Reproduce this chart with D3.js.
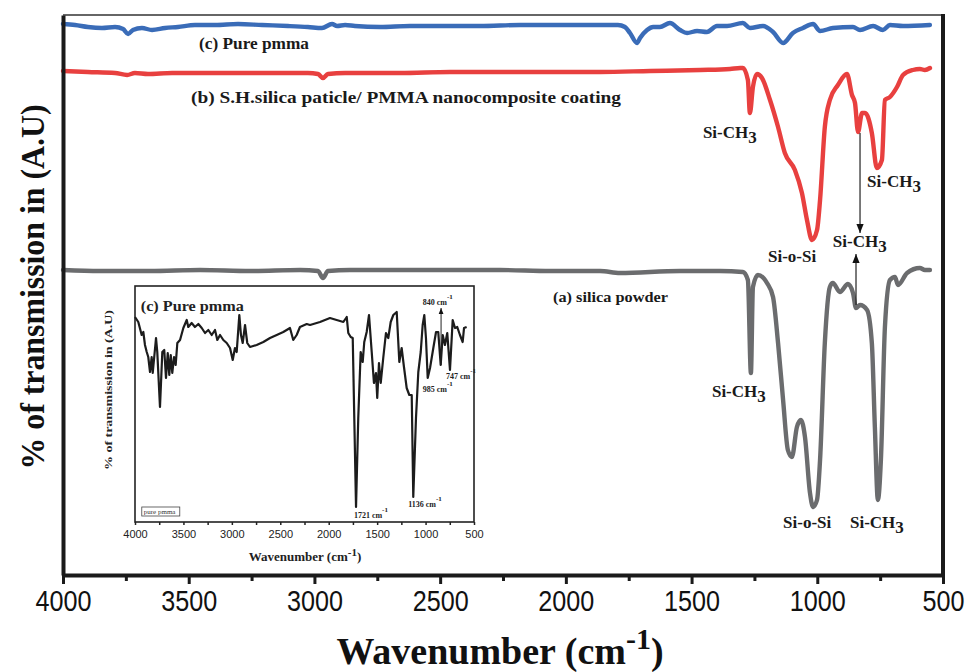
<!DOCTYPE html>
<html><head><meta charset="utf-8">
<script src="https://cdn.jsdelivr.net/npm/d3@7"></script>
<style>body{margin:0;background:#fff}</style>
</head><body><svg id="c" width="968" height="672"></svg>
<script>
// ---------------- data ----------------
const xTicks = [4000,3500,3000,2500,2000,1500,1000,500];
const xMinorTicks = [3750,3250,2750,2250,1750,1250,750];

// (c) Pure pmma (main plot, blue)
const pmmaWn = [4000,3952,3901,3845,3793,3761,3741,3722,3686,3646,3594,3543,3475,3395,3304,3208,3105,3026,2970,2930,2910,2878,2839,2739,2620,2501,2342,2182,2023,1864,1793,1765,1745,1717,1705,1677,1653,1626,1586,1546,1518,1478,1439,1399,1359,1296,1268,1216,1176,1136,1097,1057,1017,989,938,858,830,778,739,711,659,552];
const pmmaT  = [551,550,548,547,548,546,541,545,547,545,547,548,550,550,551,550,549,548,547,551,549,550,549,548,549,549,549,550,550,550,550,548,542,532,537,545,548,548,552,545,542,544,543,549,549,552,547,549,543,532,542,547,551,544,547,548,545,549,545,550,549,550];

// (b) S.H. silica particle / PMMA nanocomposite coating (red)
const compWn = [4000,3901,3793,3745,3714,3662,3566,3435,3304,3169,3026,2986,2966,2946,2878,2839,2660,2461,2262,2063,1864,1665,1466,1347,1307,1296,1276,1268,1256,1240,1220,1188,1156,1129,1089,1061,1041,1021,1001,989,970,950,918,882,862,850,838,822,810,783,763,743,731,711,683,659,620,592,572,552];
const compT  = [504,503,502,500,502,501,502,502,502,502,502,501,497,501,502,502,502,503,503,503,503,504,505,506,507,507,495,462,488,501,497,475,448,422,405,382,355,335,345,375,448,475,490,501,480,472,443,462,462,442,407,415,475,478,488,500,505,506,505,507];

// (a) silica powder (grey)
const silicaWn = [4000,3853,3654,3455,3256,3057,2986,2966,2946,2859,2660,2461,2262,2063,1864,1785,1546,1387,1296,1276,1264,1256,1236,1200,1176,1156,1136,1117,1101,1081,1065,1049,1029,1017,1001,989,970,950,938,910,878,858,846,830,802,783,771,759,747,731,711,691,679,643,592,572,552];
const silicaT  = [305,304,304,305,304,305,304,297,304,305,305,305,305,304,304,302,304,304,303,295,202,288,300,292,278,232,175,125,118,148,155,138,82,68,75,115,232,288,292,283,291,282,267,270,265,232,148,75,115,248,295,298,290,302,307,305,305];

// inset: pure pmma
const insetWn = [4000,3966,3931,3914,3897,3879,3863,3845,3828,3817,3783,3770,3742,3718,3698,3680,3662,3646,3631,3615,3597,3580,3563,3535,3501,3466,3450,3415,3381,3346,3311,3277,3243,3208,3174,3150,3122,3088,3053,3019,2991,2968,2950,2923,2906,2888,2864,2841,2813,2744,2675,2606,2537,2469,2400,2366,2331,2297,2227,2193,2090,1987,1918,1849,1814,1798,1773,1752,1736,1718,1695,1670,1649,1633,1608,1584,1556,1533,1512,1499,1481,1463,1437,1409,1385,1360,1333,1298,1271,1247,1223,1195,1168,1143,1127,1099,1075,1050,1030,1013,996,978,954,920,892,869,844,823,800,776,748,720,696,673,645,617,603,576];
const insetT  = [205,200,187,190,177,170,165,150,165,149,184,170,115,170,172,144,169,147,167,149,165,157,179,182,194,202,195,199,195,198,194,189,192,187,192,182,187,182,179,174,162,174,170,207,187,179,197,179,175,177,180,184,187,190,194,182,187,195,198,197,200,204,202,200,205,189,185,184,104,15,104,170,160,180,190,207,170,139,149,124,159,139,164,189,184,200,207,210,160,174,155,134,127,127,25,104,150,170,197,207,184,144,154,174,190,190,157,187,177,189,152,202,194,195,187,180,194,195];
const insetPeaks = [
  {label:"1721 cm", wn:1740, v:4},
  {label:"1136 cm", wn:1180, v:15},
  {label:"985 cm",  wn:1030, v:130},
  {label:"747 cm",  wn:790,  v:143},
  {label:"840 cm",  wn:1030, v:217}
];

// ---------------- drawing ----------------
const svg = d3.select("#c");
const serif = "'Liberation Serif','Times New Roman',serif";
const sans  = "'Liberation Sans',Arial,sans-serif";
const fmt = d3.format("d");

const L=63, R=943, T=15, B=575;
const x = d3.scaleLinear().domain([4000,500]).range([L,R]);
const y = d3.scaleLinear().domain([0,560]).range([B,T]);

const defs = svg.append("defs");
defs.append("marker").attr("id","ah").attr("viewBox","0 0 10 10").attr("refX",10).attr("refY",5)
  .attr("markerWidth",9).attr("markerHeight",9).attr("orient","auto-start-reverse").attr("markerUnits","userSpaceOnUse")
  .append("path").attr("d","M0,1 L10,5 L0,9 Z").attr("fill","#111");
defs.append("marker").attr("id","ahs").attr("viewBox","0 0 10 10").attr("refX",10).attr("refY",5)
  .attr("markerWidth",6).attr("markerHeight",6).attr("orient","auto-start-reverse").attr("markerUnits","userSpaceOnUse")
  .append("path").attr("d","M0,1 L10,5 L0,9 Z").attr("fill","#111");

// frame top/right
svg.append("line").attr("x1",L).attr("x2",R).attr("y1",T).attr("y2",T).attr("stroke","#666").attr("stroke-width",2);
svg.append("line").attr("x1",R).attr("x2",R).attr("y1",T-1).attr("y2",B).attr("stroke","#1a1a1a").attr("stroke-width",4);

const line = d3.line().x(d=>x(d[0])).y(d=>y(d[1])).curve(d3.curveMonotoneX);
function trace(wn,t,color){
  svg.append("path").datum(wn.map((w,i)=>[w,t[i]])).attr("d",line)
    .attr("fill","none").attr("stroke",color).attr("stroke-width",4.4)
    .attr("stroke-linejoin","round").attr("stroke-linecap","round");
}
trace(pmmaWn,pmmaT,"#3a6cb8");
trace(compWn,compT,"#e8403f");
trace(silicaWn,silicaT,"#6b6c6e");

// axes
const gx = svg.append("g").attr("transform",`translate(0,${B})`)
  .call(d3.axisBottom(x).tickValues(xTicks).tickFormat(fmt).tickSize(9).tickSizeOuter(0).tickPadding(6));
gx.select(".domain").attr("stroke","#1a1a1a").attr("stroke-width",4);
gx.selectAll(".tick line").attr("stroke","#1a1a1a").attr("stroke-width",3);
gx.selectAll(".tick text").attr("font-family",sans).attr("font-size",30).attr("fill","#111")
  .attr("transform","scale(0.84,1)");
const gxm = svg.append("g").attr("transform",`translate(0,${B})`)
  .call(d3.axisBottom(x).tickValues(xMinorTicks).tickSize(6).tickSizeOuter(0).tickFormat(""));
gxm.select(".domain").remove();
gxm.selectAll(".tick line").attr("stroke","#1a1a1a").attr("stroke-width",3);

const gy = svg.append("g").attr("transform",`translate(${L},0)`)
  .call(d3.axisLeft(y).tickValues([]).tickSizeOuter(0));
gy.select(".domain").attr("stroke","#1a1a1a").attr("stroke-width",4);

// axis titles
const xt = svg.append("text").attr("x",500).attr("y",664).attr("text-anchor","middle")
  .attr("font-family",serif).attr("font-weight","bold").attr("font-size",38).attr("fill","#111");
xt.append("tspan").text("Wavenumber (cm");
xt.append("tspan").attr("dy",-15).attr("font-size",30).text("-1");
xt.append("tspan").attr("dy",15).text(")");

svg.append("text").attr("transform","translate(44,287) rotate(-90)").attr("text-anchor","middle")
  .attr("font-family",serif).attr("font-weight","bold").attr("font-size",33).attr("fill","#111")
  .attr("textLength",365).attr("lengthAdjust","spacingAndGlyphs")
  .text("% of transmission in (A.U)");

// series labels
function label(txt,wn,v,len,size){
  svg.append("text").attr("x",x(wn)).attr("y",y(v)).attr("font-family",serif).attr("font-weight","bold")
    .attr("font-size",size).attr("fill","#1a1a1a").attr("textLength",len).attr("lengthAdjust","spacingAndGlyphs").text(txt);
}
label("(c) Pure pmma",3459,526,110,16);
label("(b) S.H.silica paticle/ PMMA nanocomposite coating",3491,472,430,16);
label("(a) silica powder",2051,273,115,14);

// peak labels
const peakLabels = [
  {t:"Si-CH",s:"3",wn:1455,v:437},
  {t:"Si-CH",s:"3",wn:802,v:388},
  {t:"Si-o-Si",s:"",wn:1196,v:313},
  {t:"Si-CH",s:"3",wn:938,v:328},
  {t:"Si-CH",s:"3",wn:1419,v:178},
  {t:"Si-o-Si",s:"",wn:1136,v:47},
  {t:"Si-CH",s:"3",wn:870,v:47}
];
peakLabels.forEach(p=>{
  const tx = svg.append("text").attr("x",x(p.wn)).attr("y",y(p.v)).attr("font-family",serif)
    .attr("font-weight","bold").attr("font-size",17).attr("fill","#1a1a1a");
  tx.append("tspan").text(p.t);
  if(p.s) tx.append("tspan").attr("dy",5).text(p.s);
});

// arrows
svg.append("line").attr("x1",x(830)).attr("x2",x(830)).attr("y1",y(442)).attr("y2",y(342))
  .attr("stroke","#222").attr("stroke-width",1.2).attr("marker-end","url(#ah)");
svg.append("line").attr("x1",x(846)).attr("x2",x(846)).attr("y1",y(270)).attr("y2",y(321))
  .attr("stroke","#222").attr("stroke-width",1.2).attr("marker-end","url(#ah)");

// ---------------- inset ----------------
const iL=135, iR=474, iT=286, iB=522;
const ix = d3.scaleLinear().domain([4000,500]).range([iL,iR]);
const iy = d3.scaleLinear().domain([0,236]).range([iB,iT]);
svg.append("rect").attr("x",iL).attr("y",iT).attr("width",iR-iL).attr("height",iB-iT)
  .attr("fill","#fff").attr("stroke","#222").attr("stroke-width",1.6);
const il = d3.line().x(d=>ix(d[0])).y(d=>iy(d[1]));
svg.append("path").datum(insetWn.map((w,i)=>[w,insetT[i]])).attr("d",il)
  .attr("fill","none").attr("stroke","#1c1c1c").attr("stroke-width",2.2).attr("stroke-linejoin","round");

const igx = svg.append("g").attr("transform",`translate(0,${iB})`)
  .call(d3.axisBottom(ix).tickValues(xTicks.concat(xMinorTicks)).tickSize(3).tickSizeOuter(0)
    .tickFormat(d=>xTicks.includes(d)?fmt(d):"").tickPadding(5));
igx.select(".domain").remove();
igx.selectAll(".tick line").attr("stroke","#222").attr("stroke-width",1.5);
igx.selectAll(".tick text").attr("font-family",sans).attr("font-size",11).attr("fill","#222");

const ixt = svg.append("text").attr("x",305).attr("y",561).attr("text-anchor","middle")
  .attr("font-family",serif).attr("font-weight","bold").attr("font-size",13).attr("fill","#222");
ixt.append("tspan").text("Wavenumber (cm");
ixt.append("tspan").attr("dy",-5).attr("font-size",11).text("-1");
ixt.append("tspan").attr("dy",5).text(")");

svg.append("text").attr("transform","translate(112,390) rotate(-90)").attr("text-anchor","middle")
  .attr("font-family",serif).attr("font-weight","bold").attr("font-size",10).attr("fill","#222")
  .attr("textLength",160).attr("lengthAdjust","spacingAndGlyphs")
  .text("% of transmission in (A.U)");

svg.append("text").attr("x",ix(3940)).attr("y",iy(211)).attr("font-family",serif).attr("font-weight","bold")
  .attr("font-size",14).attr("fill","#222").attr("textLength",103).attr("lengthAdjust","spacingAndGlyphs")
  .text("(c) Pure pmma");

svg.append("rect").attr("x",ix(3930)).attr("y",iy(15)).attr("width",38).attr("height",9)
  .attr("fill","#fff").attr("stroke","#444").attr("stroke-width",0.8);
svg.append("text").attr("x",ix(3930)+2).attr("y",iy(15)+7).attr("font-family",serif)
  .attr("font-size",7).attr("fill","#333").text("pure pmma");

insetPeaks.forEach(p=>{
  const tx = svg.append("text").attr("x",ix(p.wn)).attr("y",iy(p.v)).attr("font-family",serif)
    .attr("font-weight","bold").attr("font-size",8).attr("fill","#222");
  tx.append("tspan").text(p.label);
  tx.append("tspan").attr("dy",-6).attr("font-size",7).text("-1");
});
svg.append("line").attr("x1",ix(840)).attr("x2",ix(840)).attr("y1",iy(157)).attr("y2",iy(214))
  .attr("stroke","#222").attr("stroke-width",1).attr("marker-end","url(#ahs)");
</script>
</body></html>
